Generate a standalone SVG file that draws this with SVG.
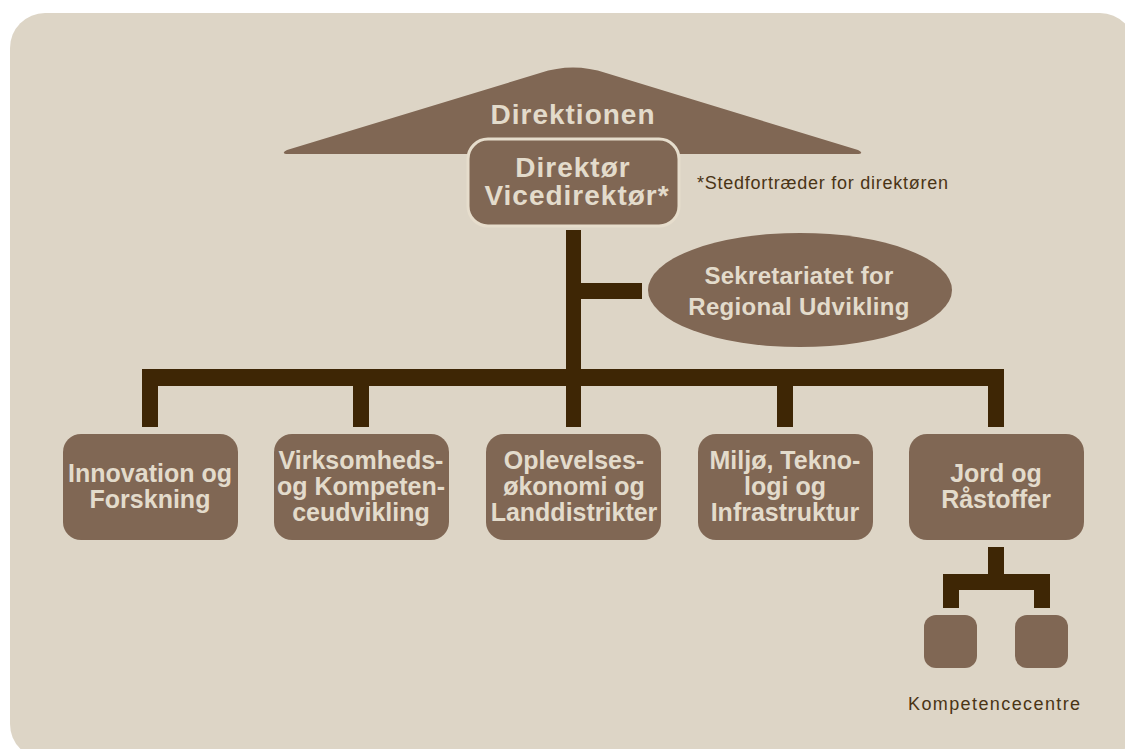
<svg xmlns="http://www.w3.org/2000/svg" width="1125" height="749" viewBox="0 0 1125 749">
  <style>
    .node { fill: #806754; }
    .bar { fill: #3e2605; }
    .lbl { font-family: "Liberation Sans", Arial, sans-serif; font-weight: bold; fill: #e3dbcb; text-anchor: middle; }
    .box { font-size: 25px; }
    .note { font-family: "Liberation Sans", Arial, sans-serif; fill: #4a3415; font-size: 18px; }
  </style>

  <!-- panel -->
  <rect x="10" y="13" width="1125" height="746" rx="35" fill="#ddd5c6"/>

  <!-- connectors -->
  <g id="connectors">
    <rect class="bar" x="566" y="230" width="15" height="150"/>
    <rect class="bar" x="581" y="283" width="61" height="16"/>
    <rect class="bar" x="142" y="369" width="861" height="17"/>
    <rect class="bar" x="142" y="369" width="16" height="58"/>
    <rect class="bar" x="353" y="369" width="16" height="58"/>
    <rect class="bar" x="566" y="369" width="15" height="58"/>
    <rect class="bar" x="777" y="369" width="16" height="58"/>
    <rect class="bar" x="988" y="369" width="16" height="58"/>
    <!-- sub-tree under Jord og Råstoffer -->
    <rect class="bar" x="988" y="547" width="16" height="30"/>
    <rect class="bar" x="943" y="574" width="107" height="16"/>
    <rect class="bar" x="943" y="574" width="16" height="34"/>
    <rect class="bar" x="1034" y="574" width="16" height="34"/>
  </g>

  <!-- board roof -->
  <g id="direktionen">
    <path class="node" d="M 286,154 Q 281,153 287,150 L 540,73 Q 573,62 606,73 L 858,150 Q 864,153 859,154 Z"/>
    <text class="lbl" x="573" y="124" font-size="28" letter-spacing="1">Direktionen</text>
  </g>

  <g id="direktoer">
    <rect class="node" x="468" y="139" width="211" height="87" rx="20" stroke="#e6ddcc" stroke-width="3"/>
    <text class="lbl" x="573" y="177" font-size="28" letter-spacing="1">Direktør</text>
    <text class="lbl" x="577" y="205" font-size="28" letter-spacing="1">Vicedirektør*</text>
  </g>

  <text class="note" x="697" y="189" font-size="19" letter-spacing="0.75">*Stedfortræder for direktøren</text>

  <g id="sekretariat">
    <ellipse class="node" cx="800" cy="290" rx="152" ry="57"/>
    <text class="lbl" x="799" y="284" font-size="24" letter-spacing="0.3">Sekretariatet for</text>
    <text class="lbl" x="799" y="315" font-size="24" letter-spacing="0.3">Regional Udvikling</text>
  </g>

  <g id="innovation">
    <rect class="node" x="63" y="434" width="175" height="106" rx="18"/>
    <text class="lbl box" x="150" y="482">Innovation og</text>
    <text class="lbl box" x="150" y="508">Forskning</text>
  </g>

  <g id="virksomhed">
    <rect class="node" x="274" y="434" width="175" height="106" rx="18"/>
    <text class="lbl box" x="361" y="469">Virksomheds-</text>
    <text class="lbl box" x="361" y="495">og Kompeten-</text>
    <text class="lbl box" x="361" y="521">ceudvikling</text>
  </g>

  <g id="oplevelse">
    <rect class="node" x="486" y="434" width="175" height="106" rx="18"/>
    <text class="lbl box" x="574" y="469">Oplevelses-</text>
    <text class="lbl box" x="574" y="495">økonomi og</text>
    <text class="lbl box" x="574" y="521">Landdistrikter</text>
  </g>

  <g id="miljoe">
    <rect class="node" x="698" y="434" width="175" height="106" rx="18"/>
    <text class="lbl box" x="785" y="469">Miljø, Tekno-</text>
    <text class="lbl box" x="785" y="495">logi og</text>
    <text class="lbl box" x="785" y="521">Infrastruktur</text>
  </g>

  <g id="jord">
    <rect class="node" x="909" y="434" width="175" height="106" rx="18"/>
    <text class="lbl box" x="996" y="482">Jord og</text>
    <text class="lbl box" x="996" y="508">Råstoffer</text>
  </g>

  <g id="centre-a">
    <rect class="node" x="924" y="615" width="53" height="53" rx="12"/>
  </g>
  <g id="centre-b">
    <rect class="node" x="1015" y="615" width="53" height="53" rx="12"/>
  </g>

  <text class="note" x="908" y="710" letter-spacing="1.4">Kompetencecentre</text>
</svg>
